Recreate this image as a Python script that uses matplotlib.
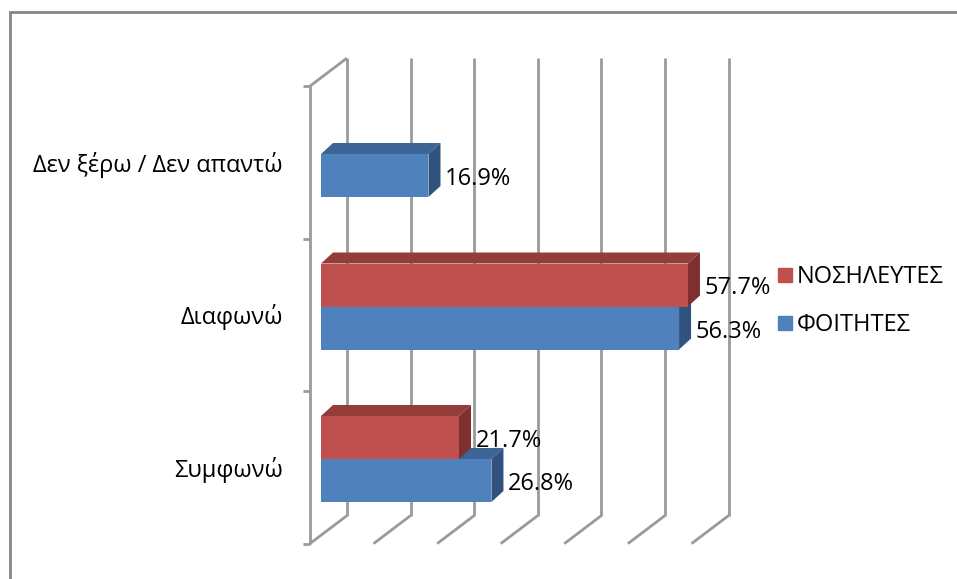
import numpy as np
import matplotlib.pyplot as plt
from matplotlib.patches import Polygon, Rectangle
from matplotlib.lines import Line2D

# survey answers, bottom to top
categories = ['Συμφωνώ', 'Διαφωνώ', 'Δεν ξέρω / Δεν απαντώ']
nurses = [21.7, 57.7, np.nan]      # no nurse value in the last category
students = [26.8, 56.3, 16.9]
series_names = ['ΝΟΣΗΛΕΥΤΕΣ', 'ΦΟΙΤΗΤΕΣ']
grid_values = [0, 10, 20, 30, 40, 50, 60]

plt.rcParams['font.family'] = ['Open Sans', 'DejaVu Sans']

colors = {
    'blue': ('#4F81BD', '#3C6596', '#30527F'),   # front, top, side
    'red': ('#C0504D', '#943C3A', '#7E302E'),
}
GRID = '#9A9A9A'
FS = 17

fig = plt.figure(figsize=(9.57, 5.79), dpi=100)
ax = fig.add_axes([0, 0, 1, 1])

# pixels per unit on each axis, bar plane origin at pixel (321, 459)
PX_X, PX_Y = 6.36, 152.5
ax.set_xlim(-321 / PX_X, (957 - 321) / PX_X)
ax.set_ylim((459 - 579) / PX_Y, 459 / PX_Y)
ax.axis('off')

# depth vector of the oblique view, in pixels per unit of depth
DEPTH_X, DEPTH_Y = 37, 28
FRONT, BACK = -0.3, 0.7     # wall depths relative to the bar front plane
BAR_DX, BAR_DY = 12 / PX_X, 11 / PX_Y
BAR_H = 43 / PX_Y


def at(x, y, d):
    return (x + d * DEPTH_X / PX_X, y + d * DEPTH_Y / PX_Y)


def line(p, q, **kw):
    ax.plot([p[0], q[0]], [p[1], q[1]], color=GRID, lw=2,
            solid_capstyle='butt', zorder=1, **kw)


y_lo, y_hi = -0.5, len(categories) - 0.5

# back wall and floor
for v in grid_values:
    line(at(v, y_lo, BACK), at(v, y_hi, BACK))
    line(at(v, y_lo, BACK), at(v, y_lo, FRONT))

# left wall
line(at(0, y_lo, FRONT), at(0, y_hi, FRONT))
line(at(0, y_hi, FRONT), at(0, y_hi, BACK))
for b in np.arange(y_lo, y_hi + 0.01, 1.0):
    p = at(0, b, FRONT)
    line((p[0] - 7 / PX_X, p[1]), p)


def bar3d(value, y0, cname):
    front, top, side = colors[cname]
    y1 = y0 + BAR_H
    faces = [
        ([(0, y0), (value, y0), (value, y1), (0, y1)], front),
        ([(0, y1), (value, y1), (value + BAR_DX, y1 + BAR_DY),
          (BAR_DX, y1 + BAR_DY)], top),
        ([(value, y0), (value, y1), (value + BAR_DX, y1 + BAR_DY),
          (value + BAR_DX, y0 + BAR_DY)], side),
    ]
    for pts, c in faces:
        ax.add_patch(Polygon(pts, closed=True, facecolor=c,
                             edgecolor='none', zorder=3))
    ax.text(value + 16.5 / PX_X, y0 + BAR_H / 2 - 9.5 / PX_Y, f'{value:.1f}%',
            fontsize=FS, ha='left', va='baseline', color='black', zorder=4)


for i in range(len(categories)):
    if not np.isnan(students[i]):
        bar3d(students[i], i - BAR_H, 'blue')
    if not np.isnan(nurses[i]):
        bar3d(nurses[i], i, 'red')

# category labels
for i, cat in enumerate(categories):
    x, y = at(0, i, FRONT)
    ax.text(x - 27 / PX_X, y - 9.5 / PX_Y, cat, fontsize=FS,
            ha='right', va='baseline', color='black')

handles = [Line2D([], [], marker='s', ls='', markersize=9.5,
                  color=colors['red'][0]),
           Line2D([], [], marker='s', ls='', markersize=9.5,
                  color=colors['blue'][0])]
fig.legend(handles, series_names, loc='center left',
           bbox_to_anchor=(764 / 957, 1 - 301 / 579), frameon=False,
           fontsize=FS, handletextpad=0.0, handlelength=1.0,
           labelspacing=1.0, borderaxespad=0)

# chart area border
fig.add_artist(Rectangle((9.5 / 957, -0.1), 1.2, 1.1 - 12.5 / 579,
                         transform=fig.transFigure, fill=False,
                         edgecolor='#868686', lw=2))

fig.savefig('out.png', dpi=100)
